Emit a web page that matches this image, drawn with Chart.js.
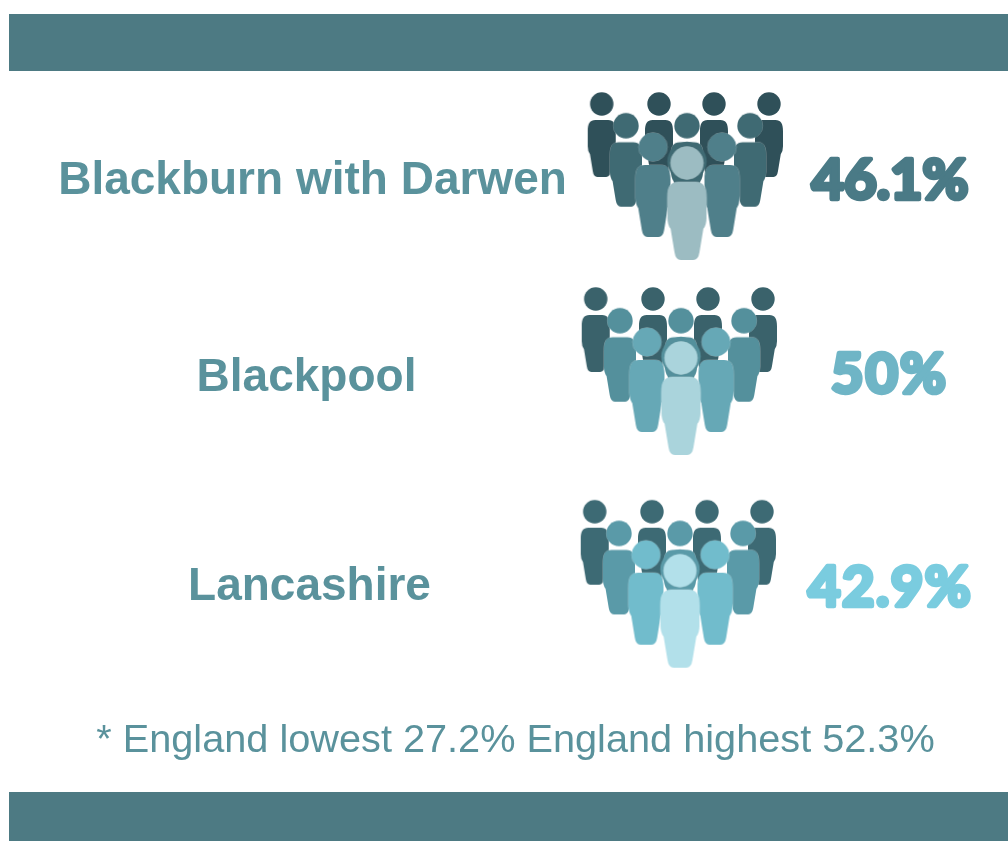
<!DOCTYPE html>
<html><head><meta charset="utf-8">
<style>html,body{margin:0;padding:0;background:#fff}#wrap{position:absolute;left:0;top:0;width:1008px;height:841px}</style>
<script src="https://cdn.jsdelivr.net/npm/chart.js@4"></script>
</head><body><div id="wrap"><canvas id="c" width="1008" height="841"></canvas></div>
<script>
// ---- data ----
const regions = ["Blackburn with Darwen", "Blackpool", "Lancashire"];
const percentages = ["46.1%", "50%", "42.9%"];
const englandLowest = "27.2%";
const englandHighest = "52.3%";
const rankColumns = [
  [-85.3, -28, 27, 82],
  [-61, 0, 63],
  [-34, 35],
  [0]
];
const rankDepths = [0, 21.7, 43, 59];

// ---- layout and style ----
const groupCentreX = [687, 681, 680];
const groupHeadY = [104, 299, 511.7];
const labelX = [312.5, 306.5, 309.5];
const labelY = [194, 391, 600];
const valueX = [890, 889.5, 890];
const valueY = [199, 393, 606];
const valueSpacing = ["0px", "2px", "1.5px"];
const rankSize = [
  {r: 11.7, top: 16, bottom: 73, w: 28},
  {r: 12.7, top: 16.5, bottom: 81, w: 32},
  {r: 14.3, top: 18, bottom: 90, w: 35},
  {r: 16.4, top: 19, bottom: 97, w: 39}
];
const rankColours = [
  ["#2f5059", "#3f6a73", "#4f7f8a", "#9cbcc2"],
  ["#3a626b", "#54909c", "#66a8b6", "#aad4dc"],
  ["#3d6a74", "#5a9aa8", "#71bccc", "#b2e0ea"]
];
const valueColours = ["#4a7a86", "#6fb5c6", "#7accdf"];
const labelColour = "#5a929c";
const bandColour = "#4d7a83";

function personCanvas(size, colour, ringColour) {
  const bw = size.w, H = size.bottom + 3, W = Math.ceil(Math.max(bw, size.r * 2) + 10);
  const cv = document.createElement("canvas");
  cv.width = W; cv.height = Math.ceil(H * 2);
  const g = cv.getContext("2d");
  g.translate(W / 2, cv.height / 2);
  g.strokeStyle = "rgba(255,255,255,0.35)";
  g.lineWidth = 1;
  if (ringColour) {
    g.fillStyle = ringColour;
    g.beginPath();
    g.arc(0, -1.5, size.r + 3.3, 0, Math.PI * 2);
    g.fill();
  }
  g.fillStyle = colour;
  const t = size.top, b = size.bottom, h = b - t, x = bw / 2;
  g.beginPath();
  g.moveTo(-x * 0.45, t);
  g.lineTo(x * 0.45, t);
  g.bezierCurveTo(x * 0.85, t, x, t + h * 0.06, x, t + h * 0.2);
  g.lineTo(x, t + h * 0.46);
  g.quadraticCurveTo(x, t + h * 0.55, x * 0.84, t + h * 0.6);
  g.lineTo(x * 0.64, t + h * 0.9);
  g.quadraticCurveTo(x * 0.58, t + h, x * 0.32, t + h);
  g.lineTo(-x * 0.32, t + h);
  g.quadraticCurveTo(-x * 0.58, t + h, -x * 0.64, t + h * 0.9);
  g.lineTo(-x * 0.84, t + h * 0.6);
  g.quadraticCurveTo(-x, t + h * 0.55, -x, t + h * 0.46);
  g.lineTo(-x, t + h * 0.2);
  g.bezierCurveTo(-x, t + h * 0.06, -x * 0.85, t, -x * 0.45, t);
  g.closePath();
  g.stroke(); g.fill();
  g.beginPath();
  g.arc(0, 0, size.r, 0, Math.PI * 2);
  g.stroke(); g.fill();
  return cv;
}

const datasets = [];
regions.forEach((name, gi) => {
  rankColumns.forEach((cols, rank) => {
    datasets.push({
      label: name + " rank " + rank,
      data: cols.map(c => ({x: groupCentreX[gi] + c, y: groupHeadY[gi] + rankDepths[rank]})),
      pointStyle: personCanvas(rankSize[rank], rankColours[gi][rank], rank === 3 ? rankColours[gi][1] : null),
      pointRadius: 10,
      pointHoverRadius: 10,
      showLine: false,
      order: 10 - rank
    });
  });
});

const infographic = {
  id: "infographic",
  beforeDatasetsDraw(chart) {
    const {ctx, scales: {x, y}} = chart;
    ctx.save();
    ctx.fillStyle = bandColour;
    [[14, 71], [792, 841]].forEach(([a, b]) => {
      ctx.fillRect(x.getPixelForValue(9), y.getPixelForValue(a),
        x.getPixelForValue(1008) - x.getPixelForValue(9), y.getPixelForValue(b) - y.getPixelForValue(a));
    });
    ctx.textAlign = "center";
    ctx.textBaseline = "alphabetic";
    ctx.font = 'bold 46px "Liberation Sans"';
    ctx.fillStyle = labelColour;
    regions.forEach((t, i) => ctx.fillText(t, x.getPixelForValue(labelX[i]), y.getPixelForValue(labelY[i])));
    ctx.font = '39.7px "Liberation Sans"';
    ctx.fillText("* England lowest " + englandLowest + " England highest " + englandHighest,
      x.getPixelForValue(515.5), y.getPixelForValue(752));
    ctx.font = '700 56px Lato';
    ctx.lineJoin = "round";
    ctx.lineCap = "round";
    ctx.lineWidth = 4.5;
    percentages.forEach((t, i) => {
      ctx.fillStyle = valueColours[i];
      ctx.strokeStyle = valueColours[i];
      ctx.letterSpacing = valueSpacing[i];
      const px = x.getPixelForValue(valueX[i]), py = y.getPixelForValue(valueY[i]);
      ctx.strokeText(t, px, py);
      ctx.fillText(t, px, py);
    });
    ctx.restore();
  }
};

new Chart(document.getElementById("c"), {
  type: "scatter",
  data: {datasets},
  plugins: [infographic],
  options: {
    responsive: false,
    devicePixelRatio: 1,
    animation: false,
    layout: {padding: 0, autoPadding: false},
    plugins: {legend: {display: false}, tooltip: {enabled: false}, title: {display: false}},
    scales: {
      x: {type: "linear", min: 0, max: 1008, display: false},
      y: {type: "linear", min: 0, max: 841, reverse: true, display: false}
    }
  }
});
</script></body></html>
